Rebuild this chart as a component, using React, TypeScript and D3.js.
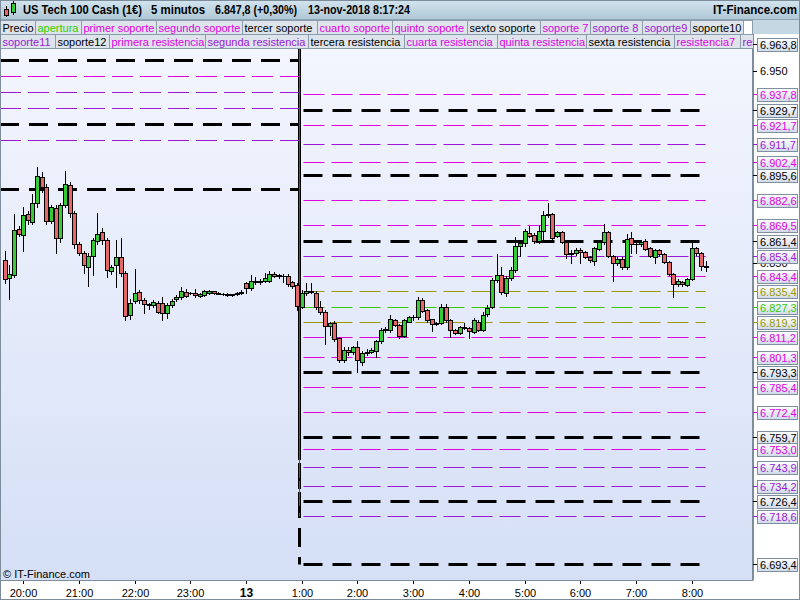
import React from "react";
import * as d3 from "d3";

// ---------------- data ----------------
const barStart = new Date(2018, 10, 12, 19, 40); // first 5-minute bar
const barMinutes = 5;

const opens = [
  6851.5, 6842.0, 6843.5, 6867.4, 6864.3, 6875.2, 6871.4, 6880.9, 6894.5, 6889.6,
  6871.9, 6878.4, 6862.8, 6879.9, 6890.5, 6875.8, 6859.6, 6855.3, 6848.0, 6853.7,
  6861.5, 6866.0, 6861.9, 6845.9, 6848.9, 6852.9, 6844.9, 6822.9, 6830.2, 6834.7,
  6830.7, 6828.4, 6828.1, 6829.0, 6829.3, 6823.8, 6828.1, 6831.0, 6832.4, 6834.7,
  6834.5, 6834.2, 6833.0, 6833.1, 6834.2, 6835.2, 6834.2, 6834.0, 6833.8, 6833.3,
  6833.6, 6834.3, 6839.4, 6836.8, 6840.7, 6839.9, 6840.7, 6840.7, 6844.0, 6843.6,
  6843.3, 6843.2, 6839.9, 6838.5, 6827.3, 6834.5, 6835.6, 6834.2, 6826.9, 6824.7,
  6817.2, 6818.6, 6810.8, 6799.5, 6804.7, 6803.5, 6806.4, 6798.3, 6803.0, 6803.8,
  6804.2, 6809.4, 6815.1, 6815.1, 6820.3, 6817.7, 6812.1, 6819.4, 6821.7, 6821.7,
  6830.7, 6825.5, 6820.6, 6818.2, 6818.9, 6827.2, 6820.3, 6815.1, 6813.4, 6816.5,
  6816.0, 6814.2, 6819.4, 6815.1, 6823.4, 6827.2, 6841.1, 6843.7, 6834.2, 6842.0,
  6846.3, 6858.9, 6860.2, 6865.4, 6864.5, 6861.5, 6866.4, 6874.7, 6875.2, 6864.1,
  6865.9, 6861.0, 6854.4, 6854.9, 6856.7, 6855.5, 6853.2, 6851.1, 6857.0, 6860.7,
  6865.9, 6853.7, 6849.8, 6852.0, 6848.0, 6862.8, 6859.8, 6859.8, 6861.5, 6857.6,
  6853.2, 6856.7, 6854.4, 6850.3, 6844.2, 6838.8, 6839.9, 6838.5, 6841.4, 6857.6,
  6855.0, 6848.4,
];
const highs = [
  6856.3, 6848.9, 6875.4, 6869.2, 6879.2, 6877.0, 6885.8, 6900.0, 6897.4, 6891.0,
  6880.0, 6880.0, 6881.0, 6897.8, 6892.0, 6877.0, 6861.0, 6856.0, 6855.0, 6863.0,
  6875.8, 6868.0, 6863.0, 6849.0, 6861.9, 6862.8, 6846.0, 6831.0, 6846.7, 6836.0,
  6831.5, 6829.0, 6830.5, 6830.0, 6832.4, 6829.0, 6831.0, 6833.5, 6837.3, 6836.4,
  6835.0, 6836.2, 6834.5, 6836.0, 6835.8, 6835.6, 6834.6, 6834.3, 6834.2, 6834.0,
  6834.8, 6836.0, 6840.0, 6843.7, 6842.8, 6841.5, 6844.6, 6845.8, 6845.0, 6844.0,
  6844.0, 6844.0, 6840.5, 6839.5, 6836.0, 6839.4, 6839.4, 6835.5, 6830.2, 6825.5,
  6819.5, 6820.0, 6811.5, 6806.0, 6806.5, 6807.0, 6809.5, 6804.0, 6805.0, 6805.5,
  6810.0, 6816.0, 6816.5, 6822.9, 6821.0, 6818.0, 6821.0, 6822.5, 6823.0, 6832.4,
  6831.5, 6826.0, 6821.0, 6819.5, 6828.4, 6828.5, 6821.0, 6815.8, 6817.3, 6818.6,
  6816.5, 6821.5, 6820.5, 6824.4, 6828.1, 6842.0, 6854.6, 6847.7, 6843.0, 6848.0,
  6863.3, 6861.0, 6867.5, 6869.2, 6865.5, 6869.8, 6876.8, 6880.9, 6876.0, 6866.5,
  6866.5, 6861.5, 6856.7, 6857.5, 6857.5, 6856.0, 6853.8, 6858.5, 6861.5, 6870.0,
  6866.5, 6854.2, 6852.8, 6853.0, 6864.8, 6866.0, 6860.5, 6861.8, 6862.5, 6858.0,
  6857.3, 6857.3, 6855.0, 6851.0, 6844.8, 6841.5, 6840.5, 6842.0, 6861.0, 6858.4,
  6855.5, 6851.1,
];
const lows = [
  6839.7, 6831.0, 6842.6, 6864.0, 6856.3, 6870.0, 6870.0, 6879.0, 6887.0, 6870.0,
  6870.5, 6855.3, 6861.0, 6879.0, 6874.0, 6857.5, 6854.0, 6844.7, 6837.9, 6843.7,
  6860.0, 6860.0, 6842.8, 6844.0, 6837.3, 6843.0, 6820.3, 6821.0, 6829.0, 6829.0,
  6823.9, 6826.0, 6827.0, 6824.0, 6820.3, 6821.5, 6827.0, 6830.0, 6831.0, 6832.0,
  6834.0, 6832.5, 6832.5, 6832.7, 6834.0, 6833.8, 6833.6, 6833.2, 6832.8, 6833.0,
  6833.4, 6834.0, 6834.5, 6836.0, 6839.2, 6839.0, 6840.0, 6840.0, 6842.8, 6842.0,
  6840.2, 6838.0, 6837.0, 6825.4, 6826.5, 6833.5, 6834.5, 6826.0, 6823.5, 6807.8,
  6812.5, 6809.5, 6798.6, 6798.5, 6802.0, 6802.5, 6793.4, 6797.0, 6802.0, 6803.0,
  6800.9, 6808.5, 6814.0, 6814.0, 6817.0, 6810.8, 6811.5, 6819.0, 6820.5, 6821.0,
  6824.5, 6819.5, 6814.7, 6817.5, 6818.0, 6819.5, 6811.6, 6813.0, 6812.8, 6815.5,
  6810.8, 6813.5, 6814.5, 6814.5, 6822.5, 6826.5, 6840.0, 6834.0, 6833.0, 6841.0,
  6845.5, 6853.7, 6859.0, 6863.5, 6860.5, 6860.5, 6861.9, 6874.0, 6862.5, 6863.5,
  6860.5, 6852.4, 6849.8, 6854.0, 6849.8, 6852.5, 6850.5, 6848.9, 6856.5, 6860.0,
  6853.0, 6840.7, 6849.0, 6847.0, 6847.0, 6855.0, 6855.0, 6859.0, 6856.5, 6853.0,
  6849.8, 6853.8, 6849.8, 6843.5, 6832.4, 6838.0, 6838.2, 6838.0, 6841.0, 6854.2,
  6846.3, 6845.9,
];
const closes = [
  6841.4, 6844.0, 6867.1, 6865.0, 6874.7, 6872.1, 6880.9, 6895.2, 6889.6, 6871.9,
  6878.9, 6862.8, 6879.9, 6890.9, 6875.8, 6859.6, 6855.3, 6848.9, 6853.7, 6861.9,
  6865.0, 6861.9, 6846.3, 6848.0, 6852.9, 6844.6, 6822.4, 6829.3, 6834.5, 6830.7,
  6828.4, 6827.9, 6829.5, 6824.6, 6823.8, 6828.1, 6830.2, 6832.4, 6835.2, 6832.9,
  6834.4, 6833.1, 6834.0, 6835.2, 6835.2, 6834.2, 6834.0, 6833.8, 6833.2, 6833.6,
  6834.3, 6835.0, 6836.8, 6840.7, 6839.9, 6840.7, 6842.0, 6844.0, 6843.3, 6843.0,
  6843.0, 6838.8, 6838.1, 6827.4, 6834.5, 6835.6, 6835.0, 6826.9, 6824.6, 6817.2,
  6818.6, 6810.2, 6799.5, 6804.7, 6803.5, 6806.1, 6799.5, 6803.0, 6803.8, 6804.7,
  6809.4, 6815.1, 6815.4, 6820.6, 6817.7, 6812.1, 6820.3, 6821.7, 6822.0, 6830.7,
  6825.1, 6820.3, 6818.2, 6818.9, 6827.2, 6820.3, 6815.1, 6813.7, 6816.5, 6816.0,
  6814.6, 6820.3, 6815.1, 6822.9, 6826.4, 6841.1, 6843.7, 6835.0, 6842.0, 6846.3,
  6858.8, 6860.2, 6866.4, 6864.1, 6861.5, 6866.4, 6874.7, 6875.2, 6863.1, 6865.9,
  6861.0, 6854.4, 6854.9, 6856.7, 6855.5, 6853.2, 6851.5, 6857.6, 6860.7, 6865.9,
  6853.7, 6849.8, 6852.0, 6847.7, 6862.2, 6859.8, 6859.9, 6861.0, 6857.0, 6853.6,
  6856.7, 6854.4, 6850.3, 6844.2, 6838.8, 6840.6, 6838.8, 6841.4, 6857.6, 6855.0,
  6848.4, 6847.8,
];

// indicator levels: value of the previous session and of the current session
const levelNames = [
  "resistencia12", "resistencia11", "resistencia10", "resistencia9", "resistencia8", "resistencia7",
  "sexta resistencia", "quinta resistencia", "cuarta resistencia", "tercera resistencia",
  "segunda resistencia", "primera resistencia", "apertura +", "apertura", "apertura -",
  "primer soporte", "segundo soporte", "tercer soporte", "cuarto soporte", "quinto soporte",
  "sexto soporte", "soporte 7", "soporte 8", "soporte9", "soporte10", "soporte11", "soporte12",
];
const levelPrev = [
  7158.8, 7132.8, 7124.7, 7116.7, 7106.7, 7097.4, 7090.6, 7077.6, 7064.5, 7056.4,
  7048.4, 7038.4, 7030.4, 7022.3, 7014.3, 7006.2, 6996.3, 6988.3, 6980.4, 6967.4,
  6955.5, 6947.2, 6938.8, 6930.5, 6922.2, 6913.9, 6888.4,
];
const levelNow = [
  6963.8, 6937.8, 6929.7, 6921.7, 6911.7, 6902.4, 6895.6, 6882.6, 6869.5, 6861.4,
  6853.4, 6843.4, 6835.4, 6827.3, 6819.3, 6811.2, 6801.3, 6793.3, 6785.4, 6772.4,
  6759.7, 6753.0, 6743.9, 6734.2, 6726.4, 6718.6, 6693.4,
];

const priceTicks = [6950, 6850];
const timeTickLabels = ["20:00", "21:00", "22:00", "23:00", "13", "1:00", "2:00", "3:00", "4:00", "5:00", "6:00", "7:00", "8:00"];

const legendRow1 = ["Precio", "apertura", "primer soporte", "segundo soporte", "tercer soporte", "cuarto soporte", "quinto soporte", "sexto soporte", "soporte 7", "soporte 8", "soporte9", "soporte10"];
const legendRow2 = ["soporte11", "soporte12", "primera resistencia", "segunda resistencia", "tercera resistencia", "cuarta resistencia", "quinta resistencia", "sexta resistencia", "resistencia7", "resistencia8"];

const headerTitle = "US Tech 100 Cash (1€)";
const headerPeriod = "5 minutos";
const headerChange = "+0,30%";
const headerDate = "13-nov-2018 8:17:24";
const brand = "IT-Finance.com";

// ---------------- styles / layout ----------------
const MAG = "#e000e0";
const PUR = "#9b19d6";
const OLV = "#9a9a00";
const GRN = "#33cc00";
const BLK = "#000000";
const seriesColor: Record<string, string> = {
  Precio: BLK, apertura: GRN, "apertura +": OLV, "apertura -": OLV,
  "primer soporte": MAG, "segundo soporte": MAG, "tercer soporte": BLK, "cuarto soporte": MAG,
  "quinto soporte": MAG, "sexto soporte": BLK, "soporte 7": MAG, "soporte 8": PUR, soporte9: PUR,
  soporte10: BLK, soporte11: PUR, soporte12: BLK,
  "primera resistencia": MAG, "segunda resistencia": PUR, "tercera resistencia": BLK,
  "cuarta resistencia": MAG, "quinta resistencia": MAG, "sexta resistencia": BLK,
  resistencia7: MAG, resistencia8: PUR, resistencia9: MAG, resistencia10: BLK, resistencia11: MAG, resistencia12: BLK,
};
const FONT = '"Liberation Sans", Arial, Helvetica, sans-serif';
// legend cell widths (layout)
const legendCellW1 = [35, 46, 75, 86, 75, 75, 75, 73, 50, 52, 48, 53];
const legendCellW2 = [55, 54, 96, 103, 96, 93, 89, 88, 66, 90];

const loc = d3.formatLocale({ decimal: ",", thousands: ".", grouping: [3], currency: ["", ""] });
const fmt1 = loc.format(",.1f");
const fmt0 = loc.format(",.0f");

export default function App() {
  const W = 800, H = 600;
  const L = 0, R = 753, T = 20, B = 580;

  const x = d3.scaleTime()
    .domain([new Date(2018, 10, 12, 19, 35), new Date(2018, 10, 13, 9, 6)])
    .range([L, R]);
  const y = d3.scaleLinear().domain([6685.1, 6976.8]).range([B, 19]);

  const times = opens.map((_, i) => d3.timeMinute.offset(barStart, i * barMinutes));
  const xs = times.map((t) => x(t));
  const bw = x(d3.timeMinute.offset(barStart, barMinutes)) - x(barStart);
  const dayStart = new Date(2018, 10, 13, 1, 0);
  const stepX = Math.round(x(dayStart) - bw / 2) + 0.5;
  const lastX = xs[xs.length - 1];

  const hourTicks = d3.timeHour.range(new Date(2018, 10, 12, 20, 0), new Date(2018, 10, 13, 8, 1));

  const crisp = (v: number) => Math.round(v) + 0.5;

  const buildRow = (items: string[], widths: number[]) => {
    let cx = 0;
    return items.map((name, i) => {
      const cell = { name, x: cx, w: widths[i] };
      cx += widths[i];
      return cell;
    });
  };
  const row1 = buildRow(legendRow1, legendCellW1);
  const row2 = buildRow(legendRow2, legendCellW2);
  const row1End = row1[row1.length - 1].x + row1[row1.length - 1].w;

  const lastClose = closes[closes.length - 1];
  const levelOrder = levelNow.map((v, i) => i).sort((a, b) => levelNow[b] - levelNow[a]);
  // draw black levels first, coloured ones over them
  const drawOrder = levelNames.map((_, i) => i)
    .sort((a, b) => (seriesColor[levelNames[a]] === BLK ? 0 : 1) - (seriesColor[levelNames[b]] === BLK ? 0 : 1));

  return (
    <svg width={W} height={H} style={{ position: "fixed", left: 0, top: 0, display: "block" }}
      fontFamily={FONT}>
      <defs>
        <linearGradient id="plotBg" x1="0" y1="0" x2="0" y2="1">
          <stop offset="0" stopColor="#f5f7fe" />
          <stop offset="1" stopColor="#d5dff6" />
        </linearGradient>
        <linearGradient id="headBg" x1="0" y1="0" x2="0" y2="1">
          <stop offset="0" stopColor="#d3e4ee" />
          <stop offset="1" stopColor="#aec7d6" />
        </linearGradient>
        <linearGradient id="boxBg" x1="0" y1="0" x2="0" y2="1">
          <stop offset="0" stopColor="#ffffff" />
          <stop offset="1" stopColor="#cfdae8" />
        </linearGradient>
        <clipPath id="plotClip">
          <rect x={L} y={T} width={R - L} height={B - T} />
        </clipPath>
        <clipPath id="legendClip">
          <rect x={0} y={0} width={R} height={60} />
        </clipPath>
      </defs>

      <rect x={0} y={0} width={W} height={H} fill="#ffffff" />
      <rect x={L} y={T} width={R - L} height={B - T} fill="url(#plotBg)" />

      {/* level lines */}
      <g clipPath="url(#plotClip)" fill="none">
        {drawOrder.map((i) => {
          const name = levelNames[i];
          const c = seriesColor[name];
          const black = c === BLK;
          const y0 = crisp(y(levelPrev[i]));
          const y1 = crisp(y(levelNow[i]));
          const sw = black ? 3 : 1;
          const dash = black ? "19,10" : "21,7";
          return (
            <g key={name} stroke={c} strokeWidth={sw} strokeDasharray={dash}>
              <path d={`M${L},${y0}H${stepX}V${y1}`} />
              <path d={`M${stepX + 4},${y1}H${lastX}`} />
            </g>
          );
        })}
      </g>

      {/* candles */}
      <g clipPath="url(#plotClip)">
        {opens.map((o, i) => {
          const c = closes[i];
          const px = Math.round(xs[i]);
          const yh = Math.round(y(highs[i]));
          const yl = Math.round(y(lows[i]));
          const yo = Math.round(y(o));
          const yc = Math.round(y(c));
          const top = Math.min(yo, yc);
          const bot = Math.max(yo, yc);
          const up = c >= o;
          return (
            <g key={i}>
              <line x1={px + 0.5} x2={px + 0.5} y1={yh} y2={yl + 1} stroke="#000" strokeWidth={1} />
              {bot - top >= 1 ? (
                <rect x={px - 1.5} y={top + 0.5} width={4} height={bot - top}
                  fill={up ? "#37cc37" : "#e46868"} stroke="#000" strokeWidth={1} />
              ) : (
                <line x1={px - 2} x2={px + 3} y1={top + 0.5} y2={top + 0.5} stroke="#000" strokeWidth={1} />
              )}
            </g>
          );
        })}
      </g>

      <text x={3} y={578} fontSize={11} fill="#000">© IT-Finance.com</text>

      <rect x={L + 0.5} y={T + 0.5} width={R - L - 1} height={B - T} fill="none" stroke="#7d8d9c" />

      {/* right axis */}
      <rect x={R + 1} y={T} width={W - R - 2} height={B - T} fill="#ffffff" />
      <line x1={R + 0.5} x2={R + 0.5} y1={T} y2={B + 0.5} stroke="#7d8d9c" />
      {priceTicks.map((p) => (
        <g key={p}>
          <line x1={R} x2={R + 4} y1={crisp(y(p))} y2={crisp(y(p))} stroke="#000" />
          <text x={760} y={y(p) + 4} fontSize={11} fill="#000">{fmt0(p)}</text>
        </g>
      ))}
      {levelOrder.map((i) => {
        const name = levelNames[i];
        const c = seriesColor[name];
        const yy = crisp(y(levelNow[i]));
        return (
          <g key={name}>
            <line x1={R} x2={R + 5} y1={yy} y2={yy} stroke={c} />
            <rect x={757.5} y={Math.round(yy - 7) + 0.5} width={40} height={13} fill="url(#boxBg)" stroke="#7f8fa0" />
            <text x={760} y={yy + 4.5} fontSize={11} fill={c}>{fmt1(levelNow[i])}</text>
          </g>
        );
      })}

      {/* bottom axis */}
      <rect x={0} y={B + 1} width={W} height={H - B - 1} fill="#ffffff" />
      <line x1={0} x2={R} y1={B + 0.5} y2={B + 0.5} stroke="#7d8d9c" />
      {hourTicks.map((t, i) => {
        const tx = crisp(x(t));
        const label = timeTickLabels[i];
        const bold = label === "13";
        return (
          <g key={i}>
            <line x1={tx} x2={tx} y1={B + 1} y2={B + 4} stroke="#000" />
            <text x={tx} y={597} fontSize={bold ? 12 : 11} fontWeight={bold ? "bold" : "normal"} textAnchor="middle" fill="#000">{label}</text>
          </g>
        );
      })}

      {/* header */}
      <rect x={0} y={0} width={W} height={T} fill="url(#headBg)" />
      <line x1={0} x2={W} y1={T - 0.5} y2={T - 0.5} stroke="#8fa5b3" />
      <rect x={R} y={T} width={W - R} height={14} fill="#c4d7e2" />
      <line x1={6.5} x2={6.5} y1={6} y2={17} stroke="#000" />
      <rect x={4.5} y={9.5} width={4} height={6} fill="#e46868" stroke="#000" />
      <line x1={13.5} x2={13.5} y1={1} y2={15} stroke="#000" />
      <rect x={11.5} y={3.5} width={4} height={9} fill="#37cc37" stroke="#000" />
      <g fontSize={12} fontWeight="bold" fill="#000">
        <text x={23} y={14} textLength={119} lengthAdjust="spacingAndGlyphs">{headerTitle}</text>
        <text x={151} y={14} textLength={54} lengthAdjust="spacingAndGlyphs">{headerPeriod}</text>
        <text x={215} y={14} textLength={82} lengthAdjust="spacingAndGlyphs">{`${fmt1(lastClose)} (${headerChange})`}</text>
        <text x={308} y={14} textLength={102} lengthAdjust="spacingAndGlyphs">{headerDate}</text>
        <text x={713} y={14} textLength={84} lengthAdjust="spacingAndGlyphs">{brand}</text>
      </g>

      {/* legend */}
      <g clipPath="url(#legendClip)">
        {row1.map((cell) => (
          <g key={cell.name}>
            <rect x={cell.x + 0.5} y={T + 0.5} width={cell.w} height={14} fill="#dde4ec" stroke="#8b9bab" />
            <text x={cell.x + 2.5} y={T + 12} fontSize={11} fill={seriesColor[cell.name]}>{cell.name}</text>
          </g>
        ))}
        <rect x={row1End + 0.5} y={T + 0.5} width={R - row1End - 1} height={14} fill="#ffffff" stroke="#8b9bab" />
        {row2.map((cell) => (
          <g key={cell.name}>
            <rect x={cell.x + 0.5} y={T + 14.5} width={cell.w} height={14} fill="#dde4ec" stroke="#8b9bab" />
            <text x={cell.x + 2.5} y={T + 26} fontSize={11} fill={seriesColor[cell.name]}>{cell.name}</text>
          </g>
        ))}
      </g>

      <rect x={0.5} y={0.5} width={W - 1} height={H - 1} fill="none" stroke="#7d8d9c" />
    </svg>
  );
}
